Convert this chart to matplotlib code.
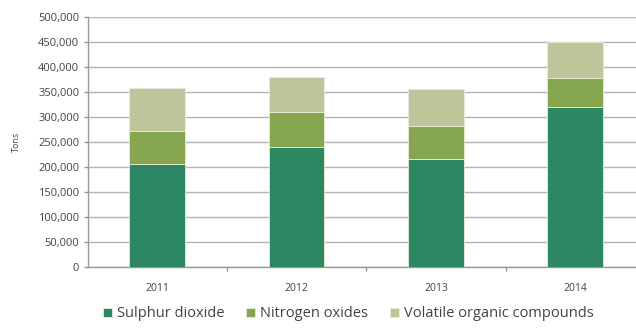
import matplotlib.pyplot as plt
from matplotlib.ticker import FuncFormatter
import numpy as np

years = ['2011', '2012', '2013', '2014']
sulphur_dioxide = [206000, 241000, 216000, 321000]
nitrogen_oxides = [67000, 70000, 67000, 58000]
voc = [86000, 69000, 74000, 71000]

colores = ['#2c8762', '#85a54e', '#bfc49b']
nombres = ['Sulphur dioxide', 'Nitrogen oxides', 'Volatile organic compounds']

plt.rcParams['font.family'] = ['Open Sans', 'DejaVu Sans']

fig = plt.figure(figsize=(6.36, 3.28), dpi=100)
# el eje se sale un poco por la derecha de la figura
ax = fig.add_axes([87.5 / 636, (328 - 267.3) / 328, (645 - 87.5) / 636, 250 / 328])

x = np.arange(len(years))
abajo = np.zeros(len(years))
for serie, color, nombre in zip([sulphur_dioxide, nitrogen_oxides, voc], colores, nombres):
    ax.bar(x, serie, width=0.4, bottom=abajo, color=color, label=nombre,
           edgecolor='#e8ecd8', linewidth=0.6, zorder=3)
    abajo += np.array(serie)

ax.set_xlim(-0.5, len(years) - 0.5)
ax.set_ylim(0, 500000)
ax.set_yticks(np.arange(0, 500001, 50000))
ax.yaxis.set_major_formatter(FuncFormatter(lambda v, p: f'{int(v):,}'))
ax.grid(axis='y', color='#b4b4b4', linewidth=1.0, zorder=0)

ax.set_xticks(x)
ax.set_xticklabels(years)
ax.set_xticks(np.arange(0.5, len(years) - 0.5, 1), minor=True)
ax.tick_params(axis='x', which='major', length=0, pad=11, labelsize=7.5, labelcolor='#444444')
ax.tick_params(axis='x', which='minor', length=3, color='#999999', width=1)
ax.tick_params(axis='y', length=3, color='#999999', width=1, pad=3, labelsize=8,
               labelcolor='#444444')

for lado in ['top', 'right']:
    ax.spines[lado].set_visible(False)
for lado in ['left', 'bottom']:
    ax.spines[lado].set_color('#999999')
    ax.spines[lado].set_linewidth(1.0)

ax.set_ylabel('Tons', fontsize=6.5, color='#444444', labelpad=12)

fig.legend(loc='lower left', bbox_to_anchor=(90 / 636, -0.02), ncol=3, frameon=False,
           fontsize=10.5, handlelength=0.6, handleheight=0.6, handletextpad=0.35,
           columnspacing=1.5, labelcolor='#444444')

plt.savefig('out.png', dpi=100)
